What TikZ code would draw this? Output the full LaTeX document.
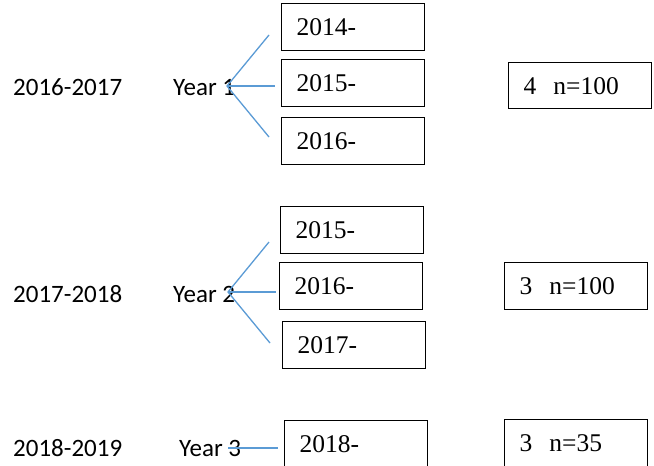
\documentclass[tikz,border=0pt]{standalone}
\usepackage{fontspec}
\setmainfont{Liberation Serif}
\newfontfamily\calib{Carlito}
\definecolor{linkblue}{RGB}{91,155,213}
\begin{document}
\begin{tikzpicture}[x=1pt,y=-1pt,
  yearbox/.style={draw=black, line width=1.3pt, anchor=north west,
    minimum height=47pt, text width=113pt, inner xsep=15pt, inner ysep=0pt,
    align=left, font=\fontsize{25.5}{30}\selectfont},
  sidelabel/.style={anchor=base west, inner sep=0pt, font=\calib\fontsize{25}{30}\selectfont},
  link/.style={draw=linkblue, line width=1.3pt}]
\useasboundingbox (0,0) rectangle (654,466);
% left period labels
\node[sidelabel] (p1) at (13,95) {2016-2017};
\node[sidelabel] (p2) at (13,302) {2017-2018};
\node[sidelabel] (p3) at (13,456) {2018-2019};
% year labels
\node[sidelabel] (y1) at (173,95) {Year 1};
\node[sidelabel] (y2) at (173,302) {Year 2};
\node[sidelabel] (y3) at (179,456) {Year 3};
% cohort boxes
\node[yearbox] (b14) at (281,3) {2014-};
\node[yearbox] (b15) at (281,59) {2015-};
\node[yearbox] (b16) at (281,117) {2016-};
\node[yearbox] (c15) at (280,206) {2015-};
\node[yearbox] (c16) at (279,262) {2016-};
\node[yearbox] (c17) at (282,321) {2017-};
\node[yearbox] (d18) at (284,420) {2018-};
% right boxes
\node[yearbox, minimum height=46pt] (r1) at (508,62) {4\hspace{17pt}n=100};
\node[yearbox] (r2) at (504,262) {3\hspace{17pt}n=100};
\node[yearbox] (r3) at (504,419) {3\hspace{17pt}n=35};
% connector points
\coordinate (a1) at (227,86);
\coordinate (e1a) at (269,35);
\coordinate (e1b) at (275,86);
\coordinate (e1c) at (269,137);
\coordinate (a2) at (228,292);
\coordinate (e2a) at (269,242);
\coordinate (e2b) at (276,292);
\coordinate (e2c) at (270,343);
\coordinate (a3) at (228,448);
\coordinate (e3) at (278,448);
\draw[link] (e1a) -- (a1) -- (e1c);
\draw[link] (a1) -- (e1b);
\draw[link] (e2a) -- (a2) -- (e2c);
\draw[link] (a2) -- (e2b);
\draw[link] (a3) -- (e3);
\end{tikzpicture}
\end{document}
